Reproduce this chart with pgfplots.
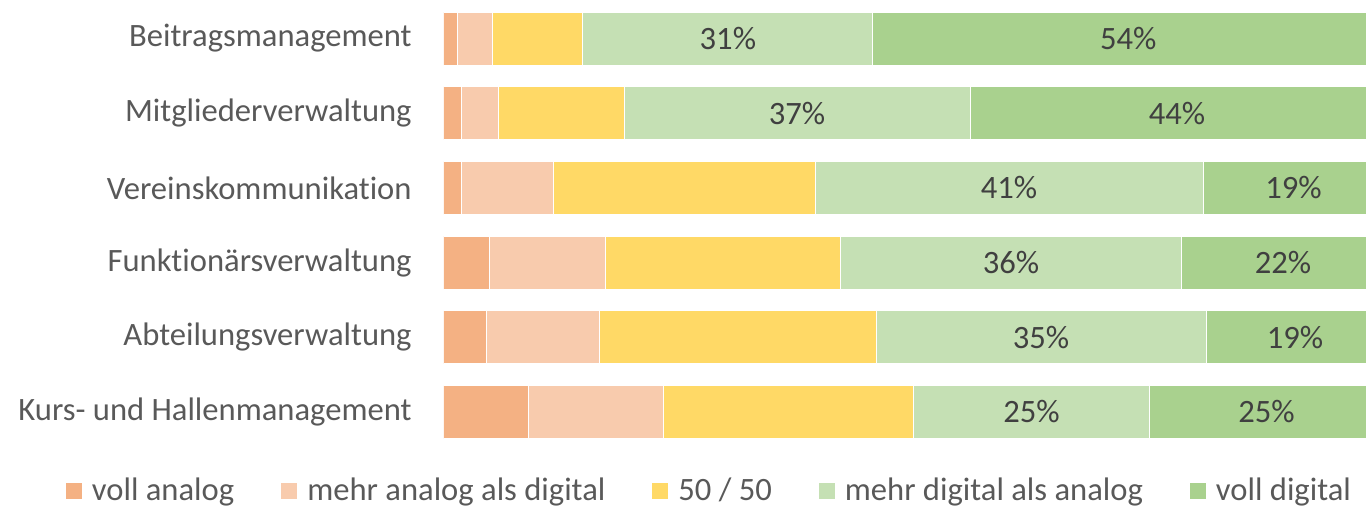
\documentclass[border=0pt]{standalone}
\usepackage{pgfplots}
\pgfplotsset{compat=1.18}
\usepackage{fontspec}
\setmainfont[Ligatures=NoCommon]{Carlito}
\definecolor{cva}{HTML}{F4B183}
\definecolor{cma}{HTML}{F8CBAD}
\definecolor{cff}{HTML}{FFD966}
\definecolor{cmd}{HTML}{C5E0B4}
\definecolor{cvd}{HTML}{A9D18E}
\definecolor{tlab}{HTML}{595959}
\definecolor{tdat}{HTML}{404040}
\begin{document}
\begin{tikzpicture}
\path[use as bounding box] (-222pt,-28.825pt) rectangle (461pt,224.675pt);
\pgfplotsset{base/.style={
  scale only axis, width=461pt, height=224.1pt,
  at={(0pt,0pt)}, anchor=south west,
  xmin=0, xmax=98.085, ymin=-0.5, ymax=5.5, y dir=reverse,
  axis line style={draw=none}, major tick length=0pt,
  xtick=\empty,
}}
\begin{axis}[base,
  xbar stacked, bar width=26.5pt,
  ytick={0,1,2,3,4,5},
  yticklabels={Beitragsmanagement,Mitgliederverwaltung,Vereinskommunikation,Funktionärsverwaltung,Abteilungsverwaltung,Kurs- und Hallenmanagement},
  yticklabel style={font=\fontsize{16.3}{19}\selectfont, text=tlab, inner sep=0pt, anchor=east, xshift=-16pt},
  legend columns=5,
  legend style={draw=none, fill=none, at={(0.2885,-0.0929)}, anchor=center,
    font=\fontsize{16.3}{19}\selectfont, text=tlab,
    /tikz/every odd column/.append style={column sep=2.5pt},
    /tikz/every even column/.append style={column sep=21pt},
    cells={anchor=west}},
  legend image code/.code={\fill[#1] (0pt,-4.25pt) rectangle (8.5pt,4.25pt);},
  every axis plot/.append style={draw=white, line width=0.5pt},
]
\addplot[fill=cva] coordinates {(1.49,0) (1.91,1) (1.81,2) (4.79,3) (4.47,4) (9.04,5)};
\addplot[fill=cma] coordinates {(3.72,0) (3.94,1) (9.89,2) (12.34,3) (12.02,4) (14.26,5)};
\addplot[fill=cff] coordinates {(9.57,0) (13.30,1) (27.77,2) (25.00,3) (29.47,4) (26.70,5)};
\addplot[fill=cmd] coordinates {(30.85,0) (36.81,1) (41.28,2) (36.38,3) (35.11,4) (25.00,5)};
\addplot[fill=cvd] coordinates {(54.37,0) (44.04,1) (19.25,2) (21.49,3) (18.93,4) (25.00,5)};
\legend{voll analog, mehr analog als digital, 50 / 50, mehr digital als analog, voll digital}
\end{axis}
\begin{axis}[base, ytick=\empty]
\addplot[draw=none, mark=none, nodes near coords, point meta=explicit symbolic,
  every node near coord/.style={anchor=center, inner sep=0pt, font=\fontsize{16.3}{19}\selectfont, text=tdat}]
  coordinates {(30.2,0) [31\%] (72.8,0) [54\%]
               (37.56,1) [37\%] (77.98,1) [44\%]
               (60.11,2) [41\%] (90.37,2) [19\%]
               (60.32,3) [36\%] (89.26,3) [22\%]
               (63.52,4) [35\%] (90.53,4) [19\%]
               (62.5,5) [25\%] (87.5,5) [25\%]};
\end{axis}
\end{tikzpicture}
\end{document}
